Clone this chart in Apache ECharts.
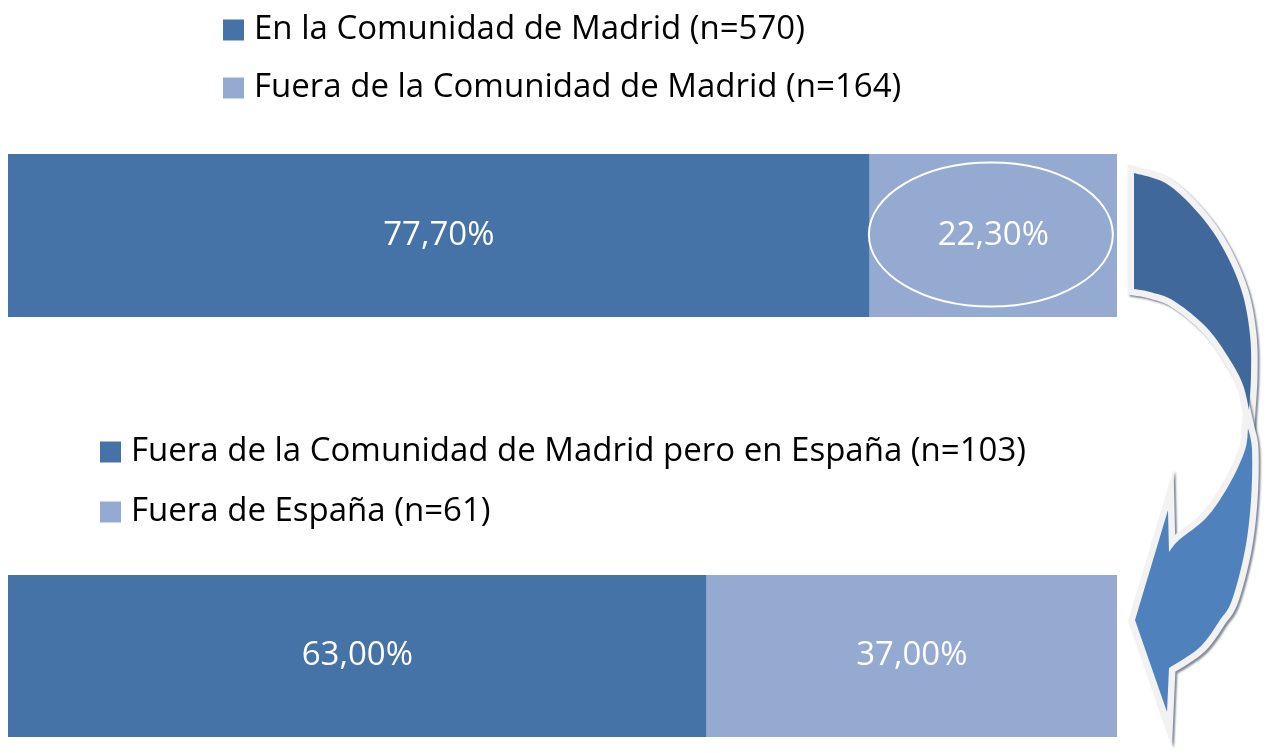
<!DOCTYPE html>
<html>
<head>
<meta charset="utf-8">
<script src="https://cdn.jsdelivr.net/npm/echarts@6/dist/echarts.min.js"></script>
<style>
html,body{margin:0;padding:0;background:#fff;}
#chart{width:1267px;height:753px;}
</style>
</head>
<body>
<div id="chart"></div>
<script>
// ---- data ----
const categories1 = ['Residencia'];
const seriesNames1 = ['En la Comunidad de Madrid (n=570)', 'Fuera de la Comunidad de Madrid (n=164)'];
const values1 = [77.70, 22.30];

const categories2 = ['Fuera de Madrid'];
const seriesNames2 = ['Fuera de la Comunidad de Madrid pero en España (n=103)', 'Fuera de España (n=61)'];
const values2 = [63.00, 37.00];

// ---- styles ----
const DARK = '#4673A7';
const LIGHT = '#94AAD0';
const FONT = 'Open Sans';

function fmt(v) { return v.toFixed(2).replace('.', ',') + '%'; }

function barSeries(name, value, color, idx) {
  return {
    name: name,
    type: 'bar',
    stack: 's' + idx,
    xAxisIndex: idx, yAxisIndex: idx,
    barWidth: '100%',
    data: [value],
    itemStyle: { color: color },
    label: {
      show: true, position: 'inside', color: '#fff',
      fontFamily: FONT, fontSize: 33,
      formatter: p => fmt(p.value)
    },
    emphasis: { disabled: true }
  };
}

const chart = echarts.init(document.getElementById('chart'), null, { renderer: 'canvas' });

const legendCommon = {
  orient: 'vertical', icon: 'rect', itemWidth: 21, itemHeight: 21,
  selectedMode: false, padding: 0,
  textStyle: { fontFamily: FONT, fontSize: 33, color: '#000', lineHeight: 40, padding: [0, 0, 0, 5] }
};

chart.setOption({
  animation: false,
  color: [DARK, LIGHT],
  legend: [
    Object.assign({}, legendCommon, { left: 223, top: 10, itemGap: 18, data: seriesNames1 }),
    Object.assign({}, legendCommon, { left: 100, top: 432, itemGap: 20, data: seriesNames2 })
  ],
  grid: [
    { left: 8, width: 1109, top: 154, height: 163 },
    { left: 8, width: 1109, top: 575, height: 162 }
  ],
  xAxis: [
    { gridIndex: 0, type: 'value', min: 0, max: 100, show: false },
    { gridIndex: 1, type: 'value', min: 0, max: 100, show: false }
  ],
  yAxis: [
    { gridIndex: 0, type: 'category', data: categories1, show: false },
    { gridIndex: 1, type: 'category', data: categories2, show: false }
  ],
  series: [
    barSeries(seriesNames1[0], values1[0], DARK, 0),
    barSeries(seriesNames1[1], values1[1], LIGHT, 0),
    barSeries(seriesNames2[0], values2[0], DARK, 1),
    barSeries(seriesNames2[1], values2[1], LIGHT, 1)
  ]
});

// ---- decorations: ellipse around the 2nd segment of bar 1, curved arrow ----
function smoothPts(pts) {
  // Catmull-Rom sampled into a dense point list
  const out = [];
  for (let i = 0; i < pts.length - 1; i++) {
    const p0 = pts[i - 1] || pts[i], p1 = pts[i], p2 = pts[i + 1], p3 = pts[i + 2] || p2;
    const c1 = [p1[0] + (p2[0] - p0[0]) / 6, p1[1] + (p2[1] - p0[1]) / 6];
    const c2 = [p2[0] - (p3[0] - p1[0]) / 6, p2[1] - (p3[1] - p1[1]) / 6];
    for (let k = 0; k < 10; k++) {
      const t = k / 10, u = 1 - t;
      out.push([
        u*u*u*p1[0] + 3*u*u*t*c1[0] + 3*u*t*t*c2[0] + t*t*t*p2[0],
        u*u*u*p1[1] + 3*u*u*t*c1[1] + 3*u*t*t*c2[1] + t*t*t*p2[1]
      ]);
    }
  }
  out.push(pts[pts.length - 1].slice());
  return out;
}

const darkOuter = [[1134,173],[1167,184],[1200,215],[1224,250],[1242,292],[1250,335],[1251,375],[1249,410]];
const darkInner = [[1249,410],[1243,385],[1230,360],[1207,328],[1174,301],[1150,292],[1134,289]];
const darkPoly = smoothPts(darkOuter).concat(smoothPts(darkInner));

const lightOuter = [[1248,428],[1252,450],[1251,500],[1245,550],[1232,600],[1220,620],[1200,647],[1169,668]];
const lightInner = [[1169,552],[1179,540],[1207,517],[1230,483],[1245,450],[1248,428]];
const lightPoly = smoothPts(lightOuter).concat([[1167,712],[1135,620],[1168,510]], smoothPts(lightInner));

function arrowPart(pts, fill) {
  return [
    { type: 'polygon', shape: { points: pts }, z: 10, silent: true,
      style: { fill: '#F2F2F2', stroke: '#F2F2F2', lineWidth: 13, lineJoin: 'miter', miterLimit: 12,
               shadowColor: 'rgba(90,100,120,0.75)', shadowOffsetX: 2, shadowOffsetY: 2, shadowBlur: 2 } },
    { type: 'polygon', shape: { points: pts }, z: 11, silent: true, style: { fill: fill } }
  ];
}

const c0 = chart.convertToPixel({ gridIndex: 0 }, [values1[0] + values1[1] / 2, 0]);
const cx = c0[0] - 2.5, cy = c0[1] - 1;

chart.setOption({
  graphic: [
    { type: 'ellipse', shape: { cx: cx, cy: cy, rx: 122, ry: 72 }, z: 20, silent: true,
      style: { fill: 'none', stroke: '#fff', lineWidth: 2 } }
  ].concat(arrowPart(darkPoly, '#41689B'), arrowPart(lightPoly, '#4F81BD'))
});
</script>
</body>
</html>
